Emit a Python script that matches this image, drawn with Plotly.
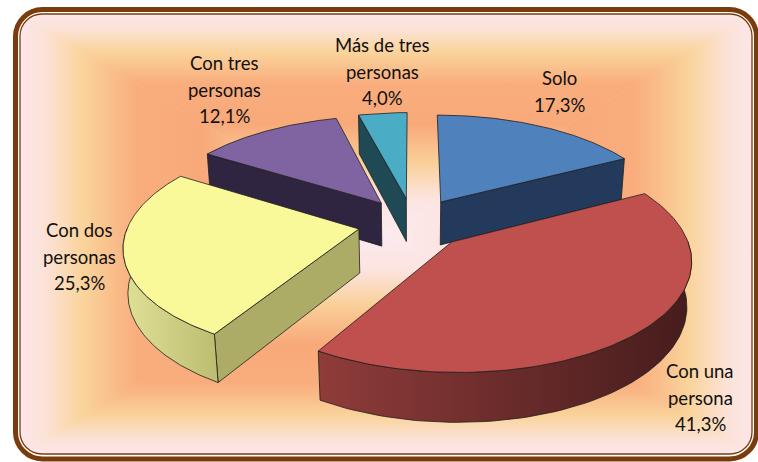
import numpy as np
import plotly.graph_objects as go
import base64

# ---------------- data ----------------
categories = ["Solo", "Con una persona", "Con dos personas", "Con tres personas", "Más de tres personas"]
percent = [17.3, 41.3, 25.3, 12.1, 4.0]

# ---------------- style ----------------
W, H = 758, 462
top_colors = ["#4F81BD", "#C0504D", "#F9F99A", "#8064A2", "#4BACC6"]
radial_wall_colors = ["#243A5C", "#5A2523", "#ACAC66", "#302540", "#1F4A55"]
curved_wall_grad = [("#34547F", "#22385A"), ("#8F3C3A", "#461C1C"), ("#E0E096", "#BDBD72"),
                    ("#4A3A60", "#2E2340"), ("#2E6C7C", "#1C4450")]
edge_color = "#1E1E1E"
label_pos = {  # centre x, centre y of first line (pixels from top)
    "Solo": (559, 78),
    "Con una persona": (700, 371),
    "Con dos personas": (79, 230),
    "Con tres personas": (224, 63),
    "Más de tres personas": (382, 45),
}
line_gap = 26.5
font = dict(family="Lato, 'Open Sans', sans-serif", size=18.5, color="#111111")

# projection parameters (pixels)
CX, CY = 413, 223
S = 230.0
SIN_PHI = 0.458
COS_PHI = np.sqrt(1 - SIN_PHI ** 2)
K = 0.165
DEPTH = 0.218
EXPLODE = 0.24


def proj(X, Y, Z):
    X = np.asarray(X, float); Y = np.asarray(Y, float); Z = np.asarray(Z, float)
    v = Y * SIN_PHI + Z * COS_PHI
    w = Y * COS_PHI - Z * SIN_PHI
    p = 1.0 / (1.0 + K * w)
    return CX + S * X * p, CY - S * v * p


def wrap(name):
    parts = name.split(" ")
    if len(parts) == 1:
        return [name]
    return [" ".join(parts[:-1]), parts[-1]]


fig = go.Figure()

total = sum(percent)
bounds = np.cumsum([0] + percent) / total * 360.0
slices = []
for i, cat in enumerate(categories):
    a0, a1 = bounds[i], bounds[i + 1]
    m = np.radians((a0 + a1) / 2)
    ox, oy = EXPLODE * np.sin(m), EXPLODE * np.cos(m)
    slices.append((oy, i, a0, a1, ox))

# paint back to front
for oy, i, a0, a1, ox in sorted(slices, key=lambda s: -s[0]):
    polys = []
    # radial walls
    for edge_ang, normal in ((a0, a0 - 90), (a1, a1 + 90)):
        if np.cos(np.radians(normal)) < -1e-6:
            t = np.radians(edge_ang)
            Xs = [ox, ox + np.sin(t), ox + np.sin(t), ox, ox]
            Ys = [oy, oy + np.cos(t), oy + np.cos(t), oy, oy]
            Zs = [0, 0, -DEPTH, -DEPTH, 0]
            px, py = proj(Xs, Ys, Zs)
            polys.append((px, py, dict(fillcolor=radial_wall_colors[i])))
    # curved outer wall (front half)
    s, e = max(a0, 90.0), min(a1, 270.0)
    if e > s:
        th = np.radians(np.linspace(s, e, 80))
        Xt = ox + np.sin(th); Yt = oy + np.cos(th)
        Xs = np.concatenate([Xt, Xt[::-1], Xt[:1]])
        Ys = np.concatenate([Yt, Yt[::-1], Yt[:1]])
        Zs = np.concatenate([np.zeros_like(Xt), -DEPTH * np.ones_like(Xt), [0]])
        px, py = proj(Xs, Ys, Zs)
        c0, c1 = curved_wall_grad[i]
        polys.append((px, py, dict(fillgradient=dict(type="horizontal",
                                                     colorscale=[[0, c0], [1, c1]]))))
    # top face
    th = np.radians(np.linspace(a0, a1, 120))
    Xs = np.concatenate([[ox], ox + np.sin(th), [ox]])
    Ys = np.concatenate([[oy], oy + np.cos(th), [oy]])
    px, py = proj(Xs, Ys, np.zeros_like(Xs))
    polys.append((px, py, dict(fillcolor=top_colors[i])))

    for px, py, fillopts in polys:
        fig.add_trace(go.Scatter(x=px, y=py, mode="lines", fill="toself",
                                 line=dict(color=edge_color, width=0.8),
                                 hoverinfo="skip", showlegend=False, **fillopts))

# labels
for cat, val in zip(categories, percent):
    lines = wrap(cat) + [f"{val:.1f}".replace(".", ",") + "%"]
    x0, y0 = label_pos[cat]
    for k, txt in enumerate(lines):
        fig.add_annotation(x=x0, y=y0 + k * line_gap, text=txt, showarrow=False,
                           xanchor="center", yanchor="middle", font=font)

# background: rectangular "from centre" gradient + brown frame (decoration)
x0, y0, x1, y1 = 20, 14, 752, 454
cx, cy = (x0 + x1) / 2, (y0 + y1) / 2
stops = [(0, "#FCEAF0"), (0.16, "#FCE4E0"), (0.32, "#FAD09A"), (0.5, "#F8A97A"),
         (0.68, "#F9AD7D"), (0.83, "#FAD49C"), (0.93, "#FCE2D6"), (1, "#FCE6EA")]
stop_xml = "".join(f'<stop offset="{o}" stop-color="{c}"/>' for o, c in stops)
grads = {
    "gt": (cx, cy, cx, y0), "gb": (cx, cy, cx, y1),
    "gl": (cx, cy, x0, cy), "gr": (cx, cy, x1, cy),
}
defs = "".join(f'<linearGradient id="{k}" gradientUnits="userSpaceOnUse" x1="{a}" y1="{b}" x2="{c}" y2="{d}">{stop_xml}</linearGradient>'
               for k, (a, b, c, d) in grads.items())
tris = {
    "gt": f"{x0},{y0} {x1},{y0} {cx},{cy}",
    "gb": f"{x0},{y1} {x1},{y1} {cx},{cy}",
    "gl": f"{x0},{y0} {x0},{y1} {cx},{cy}",
    "gr": f"{x1},{y0} {x1},{y1} {cx},{cy}",
}
tri_xml = "".join(f'<polygon points="{p}" fill="url(#{k})" stroke="url(#{k})" stroke-width="0.6"/>' for k, p in tris.items())
svg = f'''<svg xmlns="http://www.w3.org/2000/svg" width="{W}" height="{H}" viewBox="0 0 {W} {H}">
<defs>{defs}<clipPath id="cp"><rect x="{x0}" y="{y0}" width="{x1-x0}" height="{y1-y0}" rx="22" ry="22"/></clipPath></defs>
<g clip-path="url(#cp)">{tri_xml}</g>
<rect x="{x0}" y="{y0}" width="{x1-x0}" height="{y1-y0}" rx="22" ry="22" fill="none" stroke="#7A3C0C" stroke-width="1.3"/>
<rect x="15.5" y="9.5" width="741" height="449.5" rx="27" ry="27" fill="none" stroke="#7A3C0C" stroke-width="5"/>
</svg>'''
uri = "data:image/svg+xml;base64," + base64.b64encode(svg.encode("utf-8")).decode("ascii")
fig.add_layout_image(dict(source=uri, xref="paper", yref="paper", x=0, y=1, sizex=1, sizey=1,
                          sizing="stretch", xanchor="left", yanchor="top", layer="below"))

fig.update_layout(
    width=W, height=H, margin=dict(l=0, r=0, t=0, b=0),
    paper_bgcolor="white", plot_bgcolor="rgba(0,0,0,0)",
    xaxis=dict(range=[0, W], visible=False, fixedrange=True),
    yaxis=dict(range=[H, 0], visible=False, fixedrange=True),
    showlegend=False,
)
fig.write_html("out.html", config={"displayModeBar": False},
               post_script="document.body.style.margin='0';document.body.style.overflow='hidden';")
